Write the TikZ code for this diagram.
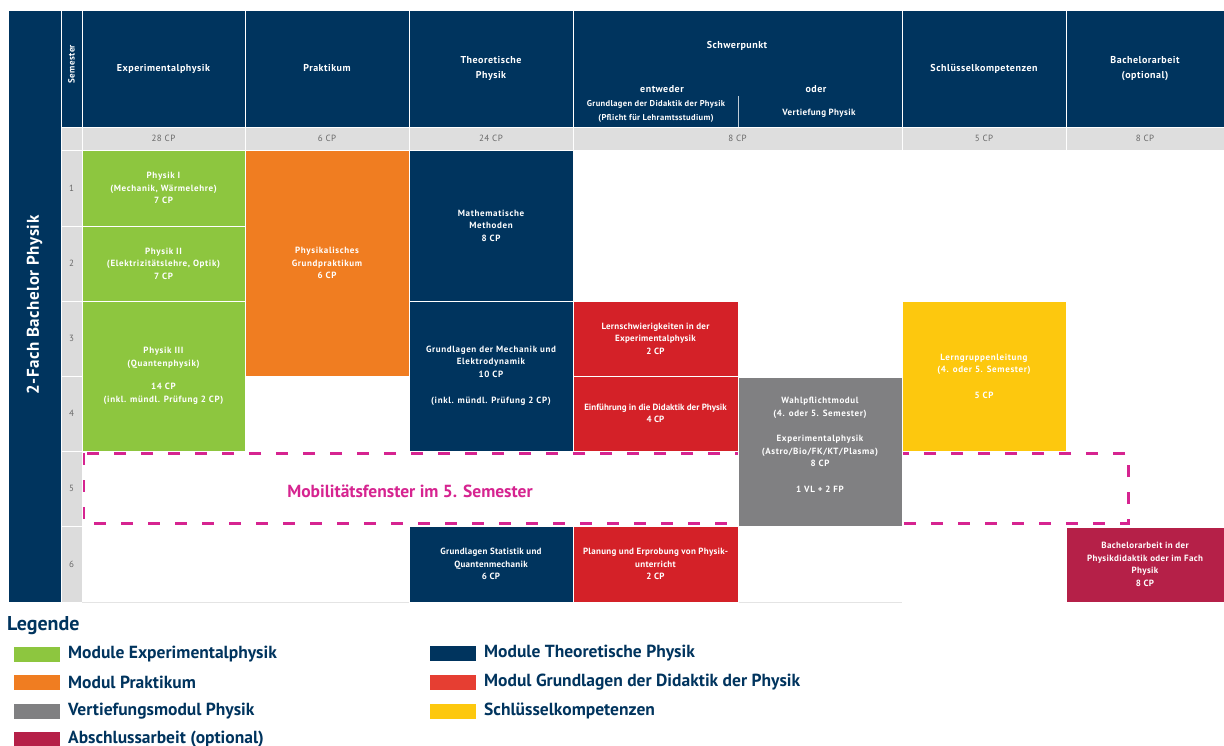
\documentclass[tikz,border=0pt]{standalone}
\usepackage{fontspec}
\setmainfont{PT Sans}
\definecolor{navy}{RGB}{0,52,94}
\definecolor{expgreen}{RGB}{141,198,63}
\definecolor{prorange}{RGB}{240,125,33}
\definecolor{didred}{RGB}{212,33,40}
\definecolor{legred}{RGB}{230,62,50}
\definecolor{vgray}{RGB}{128,128,130}
\definecolor{keyyellow}{RGB}{253,200,14}
\definecolor{crimson}{RGB}{181,32,72}
\definecolor{mag}{RGB}{214,36,144}
\definecolor{cpgray}{RGB}{222,222,222}
\definecolor{semgray}{RGB}{220,220,220}
\definecolor{numgray}{RGB}{105,105,105}
\definecolor{linegray}{RGB}{228,228,228}
\newcommand{\cellfont}{\fontsize{9}{12.5}\selectfont\bfseries\addfontfeatures{LetterSpace=7}}
\newcommand{\cellfontA}{\fontsize{9}{12.5}\selectfont\bfseries\addfontfeatures{LetterSpace=3}}
\newcommand{\cellfontB}{\fontsize{9}{12.5}\selectfont\bfseries\addfontfeatures{LetterSpace=4}}
\newcommand{\cellfontZ}{\fontsize{9}{12.5}\selectfont\bfseries}
\newcommand{\headfont}{\fontsize{10}{15}\selectfont\bfseries\addfontfeatures{LetterSpace=5}}
\newcommand{\mycell}[8][]{\node[cellnode, fill=#7, minimum width={(#5-#3)*1pt}, minimum height={(#6-#4)*1pt}, #1] (#2) at ({(#3+#5)/2},{(#4+#6)/2}) {#8};}
\tikzset{
  cellnode/.style={draw=white, line width=0.8pt, inner sep=0pt, outer sep=0pt, text=white, align=center, font=\cellfont},
  headnode/.style={font=\headfont},
  cpnode/.style={text=numgray, font=\fontsize{9}{10}\selectfont\addfontfeatures{LetterSpace=5}},
  celltext/.style={text=white, align=center, font=\cellfont, inner sep=0pt},
  headtext/.style={text=white, align=center, font=\headfont, inner sep=0pt},
  swatch/.style={minimum width=46pt, minimum height=15pt, inner sep=0pt, draw=none},
  legtext/.style={anchor=west, text=navy, font=\fontsize{17.5}{19}\selectfont\bfseries, inner sep=0pt},
}
\begin{document}
\begin{tikzpicture}[x=1pt,y=-1pt]
\useasboundingbox (0,0) rectangle (1224,746);
\fill[white] (0,0) rectangle (1224,746);

% mobility window (drawn first, partly covered by boxes)
\draw[mag, line width=3pt, dash pattern=on 12pt off 15pt] (83,453) rectangle (1128,523);
\node[text=mag, font=\fontsize{17.5}{19}\selectfont\bfseries, inner sep=0pt] (mob) at (410,491) {Mobilitätsfenster im 5. Semester};

% left bar
\mycell{bar}{8}{10}{61}{602}{navy}{}
\node[rotate=90, text=white, font=\fontsize{17}{19}\selectfont\bfseries\addfontfeatures{LetterSpace=3}, inner sep=0pt] (bartext) at (34.5,305) {2-Fach Bachelor Physik};

% header row
\mycell{semh}{61}{10}{82}{127}{navy}{}
\node[rotate=90, text=white, font=\fontsize{9}{10}\selectfont\bfseries\addfontfeatures{LetterSpace=4}, inner sep=0pt] (semt) at (71.5,64) {Semester};
\mycell[headnode]{h1}{82}{10}{245}{127}{navy}{Experimentalphysik}
\mycell[headnode]{h2}{245}{10}{409}{127}{navy}{Praktikum}
\mycell[headnode]{h3}{409}{10}{573}{127}{navy}{Theoretische\\Physik}
\mycell{h4}{573}{10}{902}{127}{navy}{}
\mycell[headnode]{h5}{902}{10}{1066}{127}{navy}{Schlüsselkompetenzen}
\mycell[headnode]{h6}{1066}{10}{1224}{127}{navy}{Bachelorarbeit\\(optional)}
\node[headtext] (swp) at (737,46) {Schwerpunkt};
\node[headtext] (entw) at (662,89) {entweder};
\node[headtext] (oder) at (816,89) {oder};
\node[text=white, align=center, font=\fontsize{8.5}{14}\selectfont\bfseries\addfontfeatures{LetterSpace=4}, inner sep=0pt] (gdp) at (656,111) {Grundlagen der Didaktik der Physik\\(Pflicht für Lehramtsstudium)};
\node[text=white, align=center, font=\fontsize{9}{10}\selectfont\bfseries\addfontfeatures{LetterSpace=4}, inner sep=0pt] (vph) at (819,113) {Vertiefung Physik};
\coordinate (dvtop) at (738,96);
\coordinate (dvbot) at (738,127);
\draw[white!75!navy, line width=0.8pt] (dvtop) -- (dvbot);

% CP row
\mycell{cp0}{61}{127}{82}{150}{cpgray}{}
\mycell[cpnode]{cp1}{82}{127}{245}{150}{cpgray}{28 CP}
\mycell[cpnode]{cp2}{245}{127}{409}{150}{cpgray}{6 CP}
\mycell[cpnode]{cp3}{409}{127}{573}{150}{cpgray}{24 CP}
\mycell[cpnode]{cp4}{573}{127}{902}{150}{cpgray}{8 CP}
\mycell[cpnode]{cp5}{902}{127}{1066}{150}{cpgray}{5 CP}
\mycell[cpnode]{cp6}{1066}{127}{1224}{150}{cpgray}{8 CP}

% semester column
\mycell[cpnode]{s1}{61}{150}{82}{226}{semgray}{1}
\mycell[cpnode]{s2}{61}{226}{82}{301}{semgray}{2}
\mycell[cpnode]{s3}{61}{301}{82}{376}{semgray}{3}
\mycell[cpnode]{s4}{61}{376}{82}{451}{semgray}{4}
\mycell[cpnode]{s5}{61}{451}{82}{526}{semgray}{5}
\mycell[cpnode]{s6}{61}{526}{82}{602}{semgray}{6}

% bottom line
\coordinate (bl1) at (82,602);
\coordinate (bl2) at (902,602);
\draw[linegray, line width=0.8pt] (bl1) -- (bl2);

% modules
\mycell{p1}{82}{150}{245}{226}{expgreen}{Physik I\\(Mechanik, Wärmelehre)\\7 CP}
\mycell{p2}{82}{226}{245}{301}{expgreen}{Physik II\\(Elektrizitätslehre, Optik)\\7 CP}
\mycell{p3}{82}{301}{245}{451}{expgreen}{Physik III\\(Quantenphysik)\\[11pt]14 CP\\(inkl. mündl. Prüfung 2 CP)}
\mycell{gp}{245}{150}{409}{376}{prorange}{Physikalisches\\Grundpraktikum\\6 CP}
\mycell{mm}{409}{150}{573}{301}{navy}{Mathematische\\Methoden\\8 CP}
\mycell{gm}{409}{301}{573}{451}{navy}{Grundlagen der Mechanik und\\Elektrodynamik\\10 CP\\[14pt](inkl. mündl. Prüfung 2 CP)}
\mycell[font=\cellfontA]{ls}{573}{301}{738}{376}{didred}{Lernschwierigkeiten in der\\Experimentalphysik\\2 CP}
\mycell[font=\cellfontZ]{ed}{573}{376}{738}{451}{didred}{Einführung in die Didaktik der Physik\\4 CP}
\mycell{wp}{738}{377}{902}{526}{vgray}{}
\node[celltext] (wpt) at (820,445) {Wahlpflichtmodul\\(4. oder 5. Semester)\\[13pt]Experimentalphysik\\(Astro/Bio/FK/KT/Plasma)\\8 CP\\[13pt]1 VL + 2 FP};
\mycell{lg}{902}{301}{1066}{451}{keyyellow}{Lerngruppenleitung\\(4. oder 5. Semester)\\[13pt]5 CP}
\mycell[font=\cellfontA]{gs}{409}{526}{573}{602}{navy}{Grundlagen Statistik und\\Quantenmechanik\\6 CP}
\mycell[font=\cellfontA]{pe}{573}{526}{738}{602}{didred}{Planung und Erprobung von Physik-\\unterricht\\2 CP}
\mycell[font=\cellfontB]{ba}{1066}{527}{1224}{602}{crimson}{Bachelorarbeit in der\\Physikdidaktik oder im Fach\\Physik\\8 CP}

% legend
\node[anchor=west, text=navy, font=\fontsize{20}{22}\selectfont\bfseries, inner sep=0pt] (leg) at (7,626) {Legende};
\node[swatch, fill=expgreen] (sw1) at (37,654) {};
\node[legtext] (lt1) at (68,654) {Module Experimentalphysik};
\node[swatch, fill=prorange] (sw2) at (37,682) {};
\node[legtext] (lt2) at (68,682) {Modul Praktikum};
\node[swatch, fill=vgray] (sw3) at (37,711) {};
\node[legtext] (lt3) at (68,711) {Vertiefungsmodul Physik};
\node[swatch, fill=crimson] (sw4) at (37,739) {};
\node[legtext] (lt4) at (68,739) {Abschlussarbeit (optional)};
\node[swatch, fill=navy] (sw5) at (453,653) {};
\node[legtext] (lt5) at (484,653) {Module Theoretische Physik};
\node[swatch, fill=legred] (sw6) at (453,682) {};
\node[legtext] (lt6) at (484,682) {Modul Grundlagen der Didaktik der Physik};
\node[swatch, fill=keyyellow] (sw7) at (453,711) {};
\node[legtext] (lt7) at (484,711) {Schlüsselkompetenzen};
\end{tikzpicture}
\end{document}
